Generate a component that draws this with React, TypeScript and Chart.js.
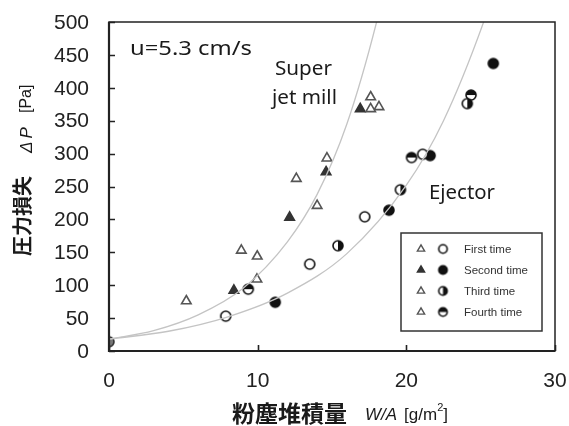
import React, { useEffect, useRef } from "react";
import { Chart, registerables } from "chart.js";
Chart.register(...registerables);

// Axis ticks
const xTickValues = [0, 10, 20, 30];
const yTickValues = [0, 50, 100, 150, 200, 250, 300, 350, 400, 450, 500];

// Super jet mill (triangles)
const jetFirstX = [5.2, 8.9, 12.6, 17.6];
const jetFirstY = [76, 153, 262, 368];
const jetSecondX = [8.4, 12.15, 14.6, 16.9];
const jetSecondY = [92, 203, 272, 368];
const jetThirdX = [9.97, 14.66, 17.6];
const jetThirdY = [144, 293, 386];
const jetFourthX = [9.95, 14.0, 18.16];
const jetFourthY = [109, 221, 371];

// Ejector (circles)
const ejFirstX = [7.85, 13.5, 17.2, 21.1];
const ejFirstY = [53, 132, 204, 299];
const ejSecondX = [11.18, 18.83, 21.6, 25.85];
const ejSecondY = [74, 214, 297, 437];
const ejThirdX = [15.4, 19.6, 24.1];
const ejThirdY = [160, 245, 376];
const ejFourthX = [9.37, 20.35, 24.35];
const ejFourthY = [94, 294, 389];

// Origin point (clean filter)
const originX = [0];
const originY = [14];

// Fitted curves
const jetFitX = [0, 3, 6, 9, 12, 14, 16, 18, 18.6];
const jetFitY = [18, 31, 55, 95, 166, 238, 345, 500, 560];
const ejFitX = [0, 4, 8, 12, 16, 20, 22.5, 25.2, 25.7];
const ejFitY = [18, 30, 52, 88, 148, 252, 350, 500, 535];

const legendLabels = ["First time", "Second time", "Third time", "Fourth time"];

const pts = (xs: number[], ys: number[]) => xs.map((x, i) => ({ x, y: ys[i] }));

function circleMarker(kind: string, r: number) {
  const c = document.createElement("canvas");
  const s = Math.ceil(2 * (r + 2));
  c.width = s;
  c.height = s;
  const ctx = c.getContext("2d")!;
  const m = s / 2;
  ctx.beginPath();
  ctx.arc(m, m, r, 0, Math.PI * 2);
  ctx.fillStyle = kind === "full" ? "#111" : kind === "origin" ? "#777" : "#fff";
  ctx.fill();
  ctx.fillStyle = "#111";
  if (kind === "right") {
    ctx.beginPath();
    ctx.arc(m, m, r, -Math.PI / 2, Math.PI / 2);
    ctx.closePath();
    ctx.fill();
  } else if (kind === "top") {
    ctx.beginPath();
    ctx.arc(m, m, r, Math.PI, Math.PI * 2);
    ctx.closePath();
    ctx.fill();
  }
  ctx.beginPath();
  ctx.arc(m, m, r, 0, Math.PI * 2);
  ctx.lineWidth = 1.6;
  ctx.strokeStyle = kind === "origin" ? "#333" : "#111";
  ctx.stroke();
  return c;
}

function wideText(ctx: CanvasRenderingContext2D, text: string, x: number, y: number, target: number) {
  const w = ctx.measureText(text).width;
  const k = target / w;
  ctx.save();
  ctx.translate(x, y);
  ctx.scale(k, 1);
  ctx.fillText(text, 0, 0);
  ctx.restore();
}

export default function App() {
  const ref = useRef<HTMLCanvasElement>(null);

  useEffect(() => {
    document.body.style.margin = "0";
    const canvas = ref.current!;
    const cOpen = circleMarker("open", 5);
    const cFull = circleMarker("full", 5);
    const cRight = circleMarker("right", 5);
    const cTop = circleMarker("top", 5);
    const cOrigin = circleMarker("origin", 5);
    const lOpen = circleMarker("open", 4.2);
    const lFull = circleMarker("full", 4.2);
    const lRight = circleMarker("right", 4.2);
    const lTop = circleMarker("top", 4.2);

    const tri = (label: string, xs: number[], ys: number[], filled: boolean) => ({
      label,
      type: "scatter" as const,
      data: pts(xs, ys),
      pointStyle: "triangle",
      pointRadius: 5.5,
      backgroundColor: filled ? "#333" : "#fff",
      borderColor: filled ? "#333" : "#555",
      borderWidth: 1.6,
      showLine: false,
    });
    const circ = (label: string, xs: number[], ys: number[], img: HTMLCanvasElement) => ({
      label,
      type: "scatter" as const,
      data: pts(xs, ys),
      pointStyle: img,
      pointRadius: 6,
      showLine: false,
    });
    const fit = (label: string, xs: number[], ys: number[]) => ({
      label,
      type: "line" as const,
      data: pts(xs, ys),
      borderColor: "#c4c4c4",
      borderWidth: 1.3,
      pointRadius: 0,
      cubicInterpolationMode: "monotone" as const,
      fill: false,
    });

    const decor = {
      id: "decor",
      afterDraw(chart: any) {
        const ctx = chart.ctx as CanvasRenderingContext2D;
        const a = chart.chartArea;
        const xs = chart.scales.x;
        const ys = chart.scales.y;
        ctx.save();
        // frame
        ctx.strokeStyle = "#222";
        ctx.lineWidth = 1.5;
        ctx.strokeRect(a.left, a.top, a.right - a.left, a.bottom - a.top);
        ctx.lineWidth = 2.2;
        ctx.beginPath();
        ctx.moveTo(a.left, a.top);
        ctx.lineTo(a.left, a.bottom);
        ctx.lineTo(a.right, a.bottom);
        ctx.stroke();
        // inner ticks
        ctx.lineWidth = 1.6;
        ctx.beginPath();
        yTickValues.forEach((v) => {
          const py = Math.round(ys.getPixelForValue(v)) + 0.5;
          ctx.moveTo(a.left, py);
          ctx.lineTo(a.left + 6, py);
        });
        xTickValues.forEach((v) => {
          const px = Math.round(xs.getPixelForValue(v)) + 0.5;
          ctx.moveTo(px, a.bottom);
          ctx.lineTo(px, a.bottom - 6);
        });
        ctx.stroke();

        // tick labels
        ctx.fillStyle = "#222";
        ctx.font = "21px 'Liberation Sans'";
        ctx.textBaseline = "middle";
        ctx.textAlign = "right";
        yTickValues.forEach((v) => {
          ctx.fillText(String(v), a.left - 20, ys.getPixelForValue(v) + 1);
        });
        ctx.textAlign = "center";
        xTickValues.forEach((v) => {
          ctx.fillText(String(v), xs.getPixelForValue(v), a.bottom + 30);
        });

        // annotations
        ctx.fillStyle = "#1a1a1a";
        ctx.textBaseline = "alphabetic";
        ctx.textAlign = "left";
        ctx.font = "20px 'Noto Sans'";
        wideText(ctx, "u=5.3 cm/s", 130, 55, 122);
        wideText(ctx, "Super", 275, 75, 57);
        wideText(ctx, "jet mill", 272, 104, 65);
        wideText(ctx, "Ejector", 429, 199, 66);

        // legend box
        ctx.strokeStyle = "#333";
        ctx.lineWidth = 1.5;
        ctx.strokeRect(401, 233, 141, 98);
        const rows = [249, 270, 291, 312];
        const lImgs = [lOpen, lFull, lRight, lTop];
        rows.forEach((ry, i) => {
          const tx = 421;
          const r = 4.2;
          ctx.beginPath();
          ctx.moveTo(tx, ry - r);
          ctx.lineTo(tx + r * 0.866, ry + r * 0.5);
          ctx.lineTo(tx - r * 0.866, ry + r * 0.5);
          ctx.closePath();
          ctx.fillStyle = i === 1 ? "#333" : "#fff";
          ctx.fill();
          ctx.strokeStyle = i === 1 ? "#333" : "#555";
          ctx.lineWidth = 1.4;
          ctx.stroke();
          const img = lImgs[i];
          ctx.drawImage(img, 443 - img.width / 2, ry - img.height / 2);
          ctx.fillStyle = "#333";
          ctx.font = "11.5px 'Liberation Sans'";
          ctx.textBaseline = "middle";
          ctx.fillText(legendLabels[i], 464, ry + 0.5);
        });

        // y title
        ctx.save();
        ctx.translate(22, 256);
        ctx.rotate(-Math.PI / 2);
        ctx.textBaseline = "middle";
        ctx.fillStyle = "#1a1a1a";
        ctx.font = "bold 20px 'Noto Sans CJK JP'";
        ctx.fillText("圧力損失", 0, 0);
        ctx.restore();
        ctx.save();
        ctx.translate(27, 153);
        ctx.rotate(-Math.PI / 2);
        ctx.textBaseline = "middle";
        ctx.fillStyle = "#1a1a1a";
        ctx.font = "italic 17px 'Liberation Sans'";
        ctx.fillText("Δ", 0, 0);
        const wd = ctx.measureText("Δ").width;
        ctx.fillText("P", wd + 3, 0);
        ctx.font = "16px 'Liberation Sans'";
        ctx.fillText("[Pa]", 40, 0);
        ctx.restore();

        // x title
        ctx.textBaseline = "middle";
        ctx.fillStyle = "#1a1a1a";
        ctx.font = "bold 23px 'Noto Sans CJK JP'";
        ctx.fillText("粉塵堆積量", 232, 413);
        let x = 365;
        ctx.font = "italic 17px 'Liberation Sans'";
        ctx.fillText("W/A", x, 415);
        x += ctx.measureText("W/A").width + 7;
        ctx.font = "17px 'Liberation Sans'";
        ctx.fillText("[g/m", x, 415);
        x += ctx.measureText("[g/m").width;
        ctx.font = "11px 'Liberation Sans'";
        ctx.fillText("2", x, 408);
        x += ctx.measureText("2").width;
        ctx.font = "17px 'Liberation Sans'";
        ctx.fillText("]", x, 415);
        ctx.restore();
      },
    };

    const chart = new Chart(canvas, {
      type: "scatter",
      data: {
        datasets: [
          fit("jetFit", jetFitX, jetFitY),
          fit("ejFit", ejFitX, ejFitY),
          tri("jet1", jetFirstX, jetFirstY, false),
          tri("jet2", jetSecondX, jetSecondY, true),
          tri("jet3", jetThirdX, jetThirdY, false),
          tri("jet4", jetFourthX, jetFourthY, false),
          circ("ej1", ejFirstX, ejFirstY, cOpen),
          circ("ej2", ejSecondX, ejSecondY, cFull),
          circ("ej3", ejThirdX, ejThirdY, cRight),
          circ("ej4", ejFourthX, ejFourthY, cTop),
          circ("origin", originX, originY, cOrigin),
        ] as any,
      },
      options: {
        responsive: false,
        animation: false,
        layout: { padding: { left: 0, top: 22, right: 14, bottom: 0 } },
        plugins: { legend: { display: false }, tooltip: { enabled: false } },
        scales: {
          x: {
            type: "linear",
            min: 0,
            max: 30,
            afterFit: (s: any) => {
              s.height = 75;
            },
            afterBuildTicks: (s: any) => {
              s.ticks = xTickValues.map((v) => ({ value: v }));
            },
            grid: { display: false },
            border: { display: false },
            ticks: { display: false },
          },
          y: {
            type: "linear",
            min: 0,
            max: 500,
            afterFit: (s: any) => {
              s.width = 109;
            },
            afterBuildTicks: (s: any) => {
              s.ticks = yTickValues.map((v) => ({ value: v }));
            },
            grid: { display: false },
            border: { display: false },
            ticks: { display: false },
          },
        },
      },
      plugins: [decor],
    });
    return () => chart.destroy();
  }, []);

  return (
    <div style={{ width: 569, height: 426, background: "#fff" }}>
      <canvas ref={ref} width={569} height={426} style={{ display: "block" }} />
    </div>
  );
}
